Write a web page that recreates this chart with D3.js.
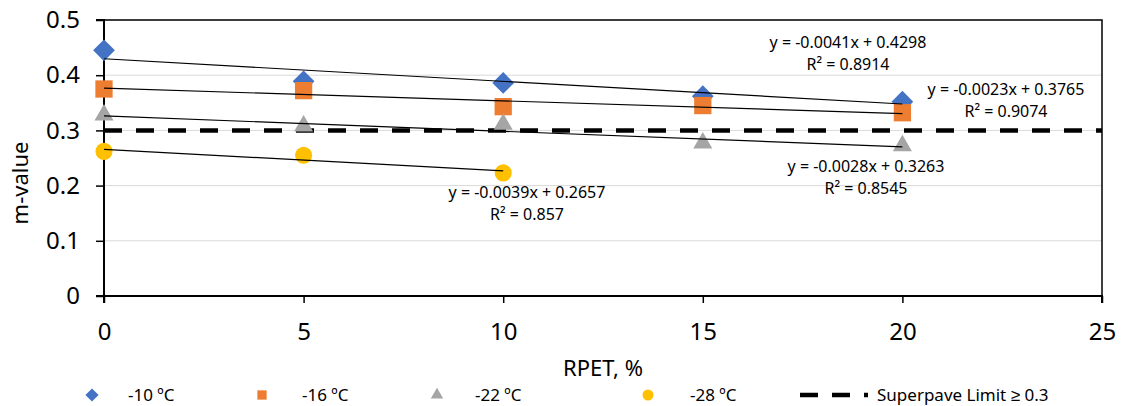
<!DOCTYPE html>
<html><head><meta charset="utf-8">
<script src="https://cdn.jsdelivr.net/npm/d3@7"></script>
<style>body{margin:0;background:#fff;} text{font-family:"Noto Sans",sans-serif;fill:#000;}</style>
</head><body><svg id="c" width="1121" height="406"></svg>
<script>
const xVals = [0, 5, 10, 15, 20];
const s10 = [0.445, 0.389, 0.386, 0.362, 0.352];
const s16 = [0.375, 0.372, 0.343, 0.345, 0.332];
const s22 = [0.328, 0.308, 0.311, 0.277, 0.272];
const s28 = [0.262, 0.255, 0.223];
const seriesNames = ["-10 ºC", "-16 ºC", "-22 ºC", "-28 ºC"];
const slopes = [-0.0041, -0.0023, -0.0028, -0.0039];
const intercepts = [0.4298, 0.3765, 0.3263, 0.2657];
const eqLabels = ["y = -0.0041x + 0.4298", "y = -0.0023x + 0.3765", "y = -0.0028x + 0.3263", "y = -0.0039x + 0.2657"];
const r2Labels = ["R² = 0.8914", "R² = 0.9074", "R² = 0.8545", "R² = 0.857"];
const limitValue = 0.3;
const limitLabel = "Superpave Limit ≥ 0.3";
const xTicks = [0, 5, 10, 15, 20, 25];
const yTicks = [0, 0.1, 0.2, 0.3, 0.4, 0.5];

const colors = ["#4472C4", "#ED7D31", "#A5A5A5", "#FFC000"];
const shapes = [d3.symbolDiamond2, d3.symbolSquare2, d3.symbolTriangle2, d3.symbolCircle];
const allSeries = [s10, s16, s22, s28];

const svg = d3.select("#c");
const x = d3.scaleLinear().domain([0, 25]).range([104, 1102]);
const y = d3.scaleLinear().domain([0, 0.5]).range([296, 20]);

// grid
svg.append("g").selectAll("line").data(yTicks.slice(1)).join("line")
  .attr("x1", x(0)).attr("x2", x(25)).attr("y1", d => y(d)).attr("y2", d => y(d))
  .attr("stroke", "#d9d9d9").attr("stroke-width", 1);
// border top/right
svg.append("path").attr("d", `M${x(0)},${y(0.5)}H${x(25)}V${y(0)}`)
  .attr("fill", "none").attr("stroke", "#000").attr("stroke-width", 1.5);

const yAxis = svg.append("g").attr("transform", `translate(${x(0)},0)`)
  .call(d3.axisLeft(y).tickValues(yTicks).tickSize(8).tickPadding(16)
    .tickFormat(d => d === 0 ? "0" : d3.format(".1f")(d)));
const xAxis = svg.append("g").attr("transform", `translate(0,${y(0)})`)
  .call(d3.axisBottom(x).tickValues(xTicks).tickSize(7).tickPadding(20).tickFormat(d3.format("d")));
[yAxis, xAxis].forEach(a => {
  a.select(".domain").attr("stroke", "#000").attr("stroke-width", 2);
  a.selectAll(".tick line").attr("stroke", "#000").attr("stroke-width", 1.5);
  a.selectAll("text").attr("font-size", 24).attr("font-family", "Noto Sans").attr("fill", "#000");
});
yAxis.select(".domain").attr("d", `M-8,${y(0.5)}H0V${y(0)}H-8`);
xAxis.select(".domain").attr("d", `M${x(0)},7V0H${x(25)}V7`);

// limit line
svg.append("line").attr("x1", x(0)).attr("x2", x(25)).attr("y1", y(limitValue)).attr("y2", y(limitValue))
  .attr("stroke", "#000").attr("stroke-width", 4.5).attr("stroke-dasharray", "18,14");

// markers
allSeries.forEach((s, i) => {
  svg.append("g").selectAll("path").data(s).join("path")
    .attr("transform", (d, j) => `translate(${x(xVals[j])},${y(d)})`)
    .attr("d", d3.symbol().type(shapes[i]).size(i === 3 ? 230 : (i === 0 ? 300 : (i === 1 ? 380 : 260))))
    .attr("fill", colors[i]);
});
// trendlines
allSeries.forEach((s, i) => {
  const x0 = 0, x1 = xVals[s.length - 1];
  svg.append("line").attr("x1", x(x0)).attr("x2", x(x1))
    .attr("y1", y(intercepts[i] + slopes[i] * x0)).attr("y2", y(intercepts[i] + slopes[i] * x1))
    .attr("stroke", "#000").attr("stroke-width", 1.2);
});

// equation labels
const eqPos = [[848, 48], [1006, 95], [866, 172], [527, 198]];
eqPos.forEach((p, i) => {
  const t = svg.append("text").attr("text-anchor", "middle").attr("font-size", 16);
  t.append("tspan").attr("x", p[0]).attr("y", p[1]).text(eqLabels[i]);
  t.append("tspan").attr("x", p[0]).attr("y", p[1] + 22).text(r2Labels[i]);
});

// axis titles
svg.append("text").attr("x", x(12.5)).attr("y", 376).attr("text-anchor", "middle")
  .attr("font-size", 22).text("RPET, %");
svg.append("text").attr("transform", "translate(28,183) rotate(-90)").attr("text-anchor", "middle")
  .attr("font-size", 22).text("m-value");

// legend
const ly = 395;
const legX = [[92, 128], [262, 302], [437, 475], [648, 690]];
seriesNames.forEach((n, i) => {
  svg.append("path").attr("transform", `translate(${legX[i][0]},${ly})`)
    .attr("d", d3.symbol().type(shapes[i]).size(i === 3 ? 95 : 110)).attr("fill", colors[i]);
  svg.append("text").attr("x", legX[i][1]).attr("y", ly + 6).attr("font-size", 17).text(n);
});
svg.append("line").attr("x1", 800).attr("x2", 868).attr("y1", ly).attr("y2", ly)
  .attr("stroke", "#000").attr("stroke-width", 4.5).attr("stroke-dasharray", "18,14");
svg.append("text").attr("x", 877).attr("y", ly + 6).attr("font-size", 17).text(limitLabel);
</script></body></html>
